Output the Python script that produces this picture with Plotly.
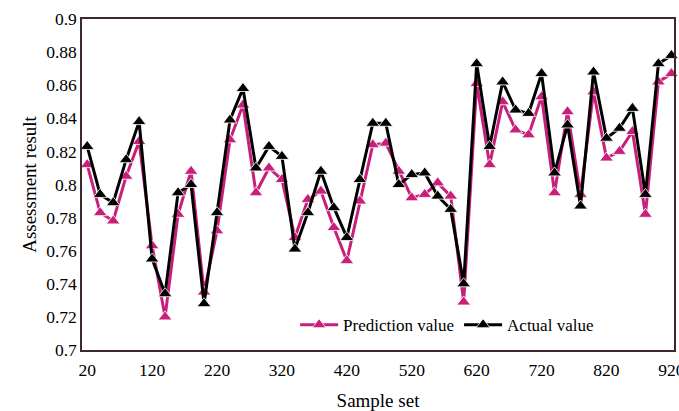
import plotly.graph_objects as go

sample_set = list(range(20, 921, 20))
prediction = [0.812, 0.783, 0.778, 0.805, 0.826, 0.763, 0.720, 0.782, 0.808, 0.735,
              0.772, 0.827, 0.848, 0.795, 0.810, 0.803, 0.768, 0.791, 0.796, 0.774,
              0.754, 0.790, 0.824, 0.825, 0.808, 0.792, 0.794, 0.801, 0.793, 0.729,
              0.861, 0.812, 0.850, 0.833, 0.830, 0.853, 0.795, 0.844, 0.794, 0.856,
              0.816, 0.820, 0.832, 0.782, 0.862, 0.867]
actual = [0.823, 0.794, 0.789, 0.815, 0.838, 0.755, 0.734, 0.795, 0.800, 0.728,
          0.783, 0.839, 0.858, 0.810, 0.823, 0.817, 0.761, 0.783, 0.808, 0.786,
          0.768, 0.803, 0.837, 0.837, 0.800, 0.806, 0.807, 0.793, 0.785, 0.740,
          0.873, 0.823, 0.862, 0.845, 0.843, 0.867, 0.807, 0.836, 0.787, 0.868,
          0.828, 0.834, 0.846, 0.794, 0.873, 0.878]
x_ticks = [20, 120, 220, 320, 420, 520, 620, 720, 820, 920]
y_ticks = [0.7, 0.72, 0.74, 0.76, 0.78, 0.8, 0.82, 0.84, 0.86, 0.88, 0.9]
y_tick_text = ["0.7", "0.72", "0.74", "0.76", "0.78", "0.8", "0.82", "0.84", "0.86", "0.88", "0.9"]

PINK = "#C8207A"
FONT = "Liberation Serif"

fig = go.Figure()
fig.add_trace(go.Scatter(
    x=sample_set, y=prediction, name="Prediction value", mode="lines+markers",
    line=dict(color=PINK, width=3),
    marker=dict(symbol="triangle-up", size=12, color=PINK, line=dict(color="white", width=0.8)),
    cliponaxis=False,
))
fig.add_trace(go.Scatter(
    x=sample_set, y=actual, name="Actual value", mode="lines+markers",
    line=dict(color="black", width=3),
    marker=dict(symbol="triangle-up", size=12, color="black", line=dict(color="white", width=0.8)),
    cliponaxis=False,
))

fig.update_layout(
    width=679, height=411,
    margin=dict(l=82, r=5, t=19, b=61),
    paper_bgcolor="white", plot_bgcolor="white",
    font=dict(family=FONT, size=17, color="black"),
    legend=dict(orientation="h", x=0.36, y=0.075, xanchor="left", yanchor="middle",
                bgcolor="rgba(0,0,0,0)", font=dict(family=FONT, size=17),
                itemwidth=38, tracegroupgap=0),
    showlegend=True,
)
fig.update_xaxes(
    range=[12, 924], tickvals=x_ticks, ticks="", showgrid=False, zeroline=False,
    showline=True, linecolor="#3a2a2a", linewidth=1.5, mirror=True, automargin=False,
    ticklabeloverflow="allow", ticklabelstandoff=3,
    title=dict(text="Sample set", font=dict(family=FONT, size=19)),
    tickfont=dict(family=FONT, size=17.5),
)
fig.update_yaxes(
    range=[0.7, 0.9], tickvals=y_ticks, ticktext=y_tick_text, ticks="", showgrid=False, zeroline=False,
    showline=True, linecolor="#3a2a2a", linewidth=1.5, mirror=True, automargin=False,
    title=dict(text="Assessment result", font=dict(family=FONT, size=19), standoff=4),
    tickfont=dict(family=FONT, size=17.5),
)

# remove the page's default body margin so the figure fills the window exactly
fig.write_html("out.html",
               config={"displayModeBar": False},
               post_script="document.body.style.margin='0';document.body.style.overflow='hidden';")
